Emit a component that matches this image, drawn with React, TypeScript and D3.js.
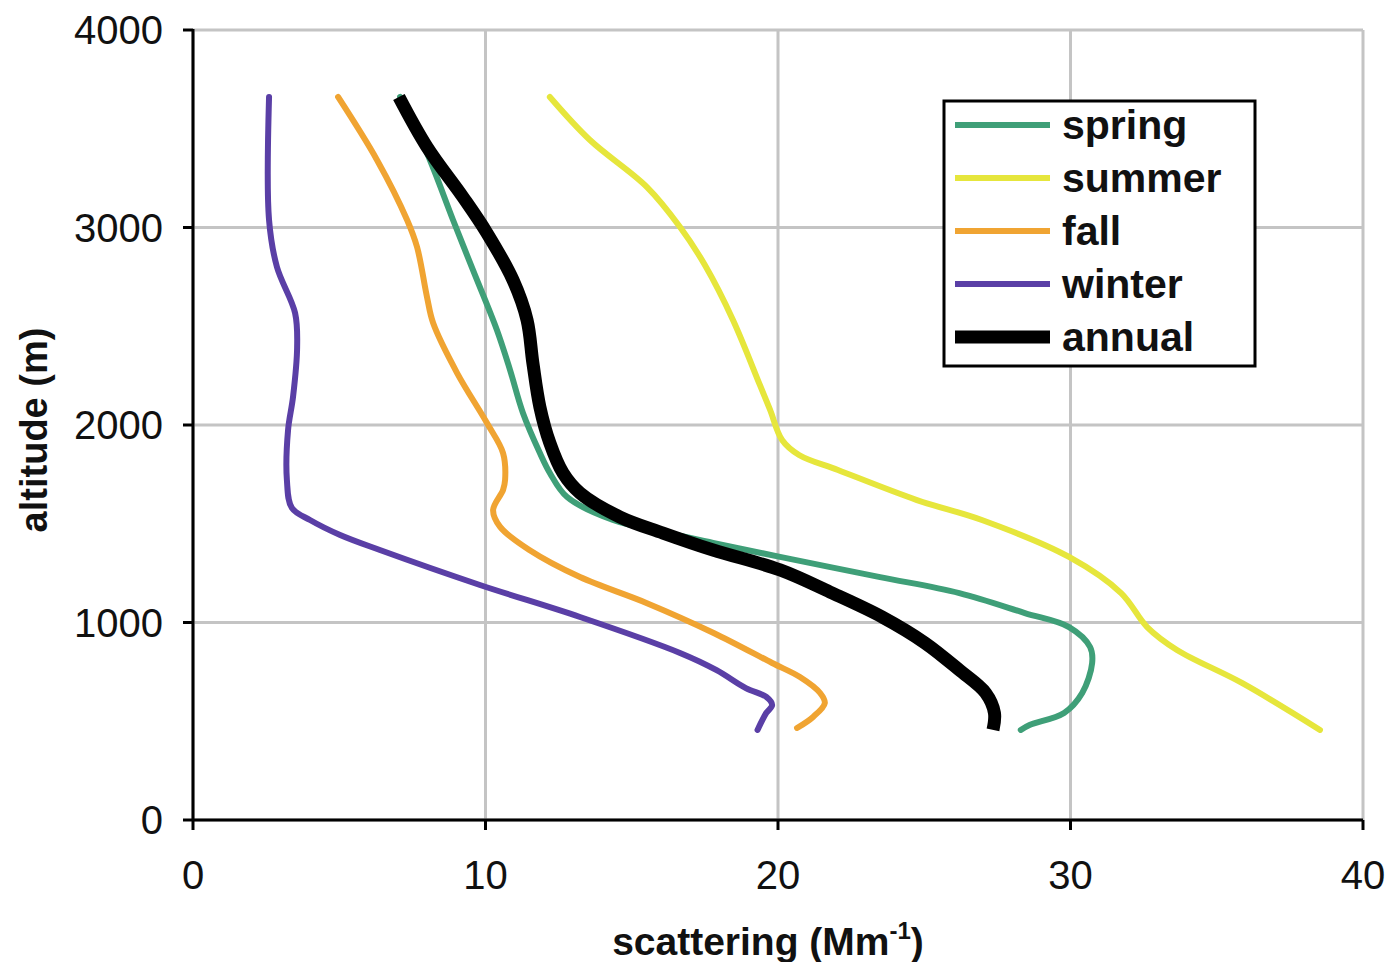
import React, { useRef, useEffect } from "react";
import * as d3 from "d3";

// altitude (m) for each profile point, read from top to bottom
const springAlt = [3661, 3377, 3038, 2785, 2481, 2278, 2061, 1858, 1757, 1635, 1519, 1458, 1403, 1332, 1230, 1149, 1048, 977, 876, 795, 643, 542, 481, 456];
const springVal = [7.08, 8.0, 8.89, 9.57, 10.39, 10.84, 11.28, 11.86, 12.2, 12.79, 14.36, 16.07, 17.78, 20.07, 23.49, 26.2, 28.44, 29.95, 30.67, 30.74, 30.4, 29.78, 28.6, 28.3];

const summerAlt = [3661, 3443, 3205, 3003, 2810, 2532, 2203, 2076, 1924, 1848, 1772, 1620, 1519, 1332, 1149, 977, 861, 694, 456];
const summerVal = [12.2, 13.57, 15.52, 16.65, 17.5, 18.46, 19.38, 19.73, 20.14, 20.72, 22.05, 24.75, 26.97, 29.95, 31.73, 32.62, 33.64, 35.86, 38.53];

const fallAlt = [3661, 3342, 3038, 2901, 2648, 2516, 2263, 2010, 1858, 1722, 1671, 1570, 1484, 1367, 1230, 1099, 947, 795, 724, 643, 592, 522, 466];
const fallVal = [4.96, 6.29, 7.32, 7.66, 8.0, 8.21, 9.03, 10.05, 10.6, 10.67, 10.6, 10.26, 10.5, 11.5, 13.23, 15.5, 17.8, 19.8, 20.75, 21.44, 21.6, 21.2, 20.65];

const winterAlt = [3661, 3038, 2800, 2567, 2395, 2142, 1975, 1722, 1580, 1519, 1443, 1367, 1190, 1028, 846, 759, 668, 623, 582, 542, 456];
const winterVal = [2.6, 2.6, 2.87, 3.49, 3.56, 3.42, 3.25, 3.21, 3.38, 4.0, 5.03, 6.39, 9.81, 13.23, 16.65, 17.9, 18.9, 19.6, 19.8, 19.6, 19.3];

const annualAlt = [3661, 3408, 3154, 2972, 2734, 2532, 2314, 2091, 1909, 1757, 1656, 1534, 1453, 1367, 1266, 1154, 1028, 896, 759, 643, 542, 456];
const annualVal = [7.04, 8.0, 9.23, 10.05, 10.94, 11.42, 11.62, 11.86, 12.2, 12.65, 13.23, 14.6, 16.07, 17.78, 20.07, 21.78, 23.56, 25.03, 26.2, 27.1, 27.4, 27.35];

const seriesNames = ["spring", "summer", "fall", "winter", "annual"];
const seriesColors = ["#3f9f78", "#e6e63c", "#f0a432", "#5a3fa6", "#000000"];
const seriesWidths = [6, 6, 6, 6, 13];

const xTicks = [0, 10, 20, 30, 40];
const yTicks = [0, 1000, 2000, 3000, 4000];

export default function App() {
  const ref = useRef<SVGSVGElement>(null);

  useEffect(() => {
    if (!ref.current) return;
    const svg = d3.select(ref.current);
    svg.selectAll("*").remove();

    const font = "'Liberation Sans', Arial, sans-serif";
    const left = 193, right = 1363, top = 30, bottom = 820;

    const x = d3.scaleLinear().domain([0, 40]).range([left, right]);
    const y = d3.scaleLinear().domain([0, 4000]).range([bottom, top]);

    // gridlines
    const grid = svg.append("g");
    xTicks.forEach(t => {
      grid.append("line")
        .attr("x1", x(t)).attr("x2", x(t))
        .attr("y1", top).attr("y2", bottom)
        .attr("stroke", "#c4c4c4").attr("stroke-width", 3);
    });
    yTicks.forEach(t => {
      grid.append("line")
        .attr("x1", left).attr("x2", right)
        .attr("y1", y(t)).attr("y2", y(t))
        .attr("stroke", "#c4c4c4").attr("stroke-width", 3);
    });

    // series
    const data = [
      { alt: springAlt, val: springVal },
      { alt: summerAlt, val: summerVal },
      { alt: fallAlt, val: fallVal },
      { alt: winterAlt, val: winterVal },
      { alt: annualAlt, val: annualVal },
    ];
    const line = d3.line<[number, number]>()
      .x(d => x(d[0]))
      .y(d => y(d[1]))
      .curve(d3.curveCatmullRom.alpha(0.5));

    // draw order: winter, fall, summer, spring, annual on top
    [3, 2, 1, 0, 4].forEach(i => {
      const pts = data[i].val.map((v, k) => [v, data[i].alt[k]] as [number, number]);
      svg.append("path")
        .attr("d", line(pts)!)
        .attr("fill", "none")
        .attr("stroke", seriesColors[i])
        .attr("stroke-width", seriesWidths[i])
        .attr("stroke-linejoin", "round")
        .attr("stroke-linecap", i === 4 ? "butt" : "round");
    });

    // axes
    svg.append("line")
      .attr("x1", left).attr("x2", left)
      .attr("y1", top - 1).attr("y2", bottom + 1)
      .attr("stroke", "#000").attr("stroke-width", 3);
    svg.append("line")
      .attr("x1", left - 1).attr("x2", right)
      .attr("y1", bottom).attr("y2", bottom)
      .attr("stroke", "#000").attr("stroke-width", 3);

    yTicks.forEach(t => {
      svg.append("line")
        .attr("x1", left - 10).attr("x2", left)
        .attr("y1", y(t)).attr("y2", y(t))
        .attr("stroke", "#000").attr("stroke-width", 3);
      svg.append("text")
        .attr("x", 163)
        .attr("y", y(t) + 14)
        .attr("text-anchor", "end")
        .style("font-family", font)
        .style("font-size", "40px")
        .attr("fill", "#111")
        .text(String(t));
    });
    xTicks.forEach(t => {
      svg.append("line")
        .attr("x1", x(t)).attr("x2", x(t))
        .attr("y1", bottom).attr("y2", bottom + 10)
        .attr("stroke", "#000").attr("stroke-width", 3);
      svg.append("text")
        .attr("x", x(t))
        .attr("y", 889)
        .attr("text-anchor", "middle")
        .style("font-family", font)
        .style("font-size", "40px")
        .attr("fill", "#111")
        .text(String(t));
    });

    // axis titles
    svg.append("text")
      .attr("transform", "translate(47,430) rotate(-90)")
      .attr("text-anchor", "middle")
      .style("font-family", font)
      .style("font-size", "38px")
      .style("font-weight", "bold")
      .attr("fill", "#111")
      .text("altitude (m)");

    const xt = svg.append("text")
      .attr("x", 768)
      .attr("y", 955)
      .attr("text-anchor", "middle")
      .style("font-family", font)
      .style("font-size", "39px")
      .style("font-weight", "bold")
      .attr("fill", "#111");
    xt.append("tspan").text("scattering (Mm");
    xt.append("tspan").attr("dy", -16).style("font-size", "24px").text("-1");
    xt.append("tspan").attr("dy", 16).text(")");

    // legend
    const lg = svg.append("g");
    lg.append("rect")
      .attr("x", 944).attr("y", 101)
      .attr("width", 311).attr("height", 265)
      .attr("fill", "#fff")
      .attr("stroke", "#000").attr("stroke-width", 3);
    seriesNames.forEach((name, i) => {
      const ly = 125 + i * 53;
      lg.append("line")
        .attr("x1", 955).attr("x2", 1050)
        .attr("y1", ly).attr("y2", ly)
        .attr("stroke", seriesColors[i])
        .attr("stroke-width", i === 4 ? 13 : 6);
      lg.append("text")
        .attr("x", 1062)
        .attr("y", ly + 14)
        .style("font-family", font)
        .style("font-size", "41px")
        .style("font-weight", "bold")
        .attr("fill", "#111")
        .text(name);
    });
  }, []);

  return (
    <svg
      ref={ref}
      width={1389}
      height={962}
      style={{ position: "absolute", left: 0, top: 0, background: "#fff" }}
    />
  );
}
